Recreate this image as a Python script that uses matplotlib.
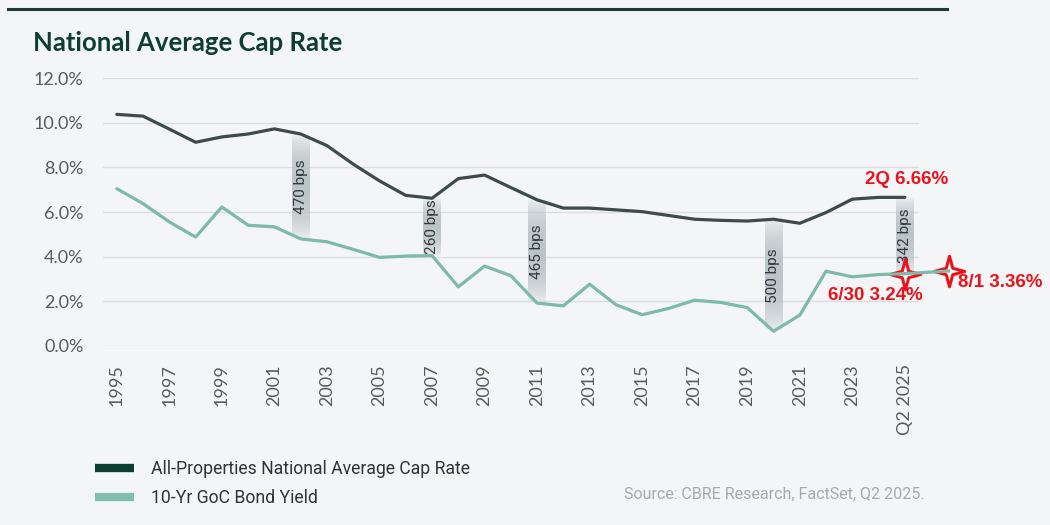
import numpy as np
import matplotlib
matplotlib.use('Agg')
import matplotlib.pyplot as plt
from matplotlib.lines import Line2D
from matplotlib.path import Path
from matplotlib.colors import to_rgb

years = [str(y) for y in range(1995, 2025)] + ['Q2 2025']
cap_rate = [10.38, 10.30, 9.72, 9.13, 9.37, 9.50, 9.73, 9.50, 8.98, 8.15,
            7.40, 6.75, 6.62, 7.50, 7.66, 7.10, 6.55, 6.18, 6.18, 6.10,
            6.02, 5.85, 5.68, 5.63, 5.60, 5.68, 5.50, 5.98, 6.58, 6.66, 6.66]
bond_yield = [7.05, 6.38, 5.56, 4.88, 6.23, 5.41, 5.34, 4.80, 4.67, 4.33,
              3.97, 4.03, 4.05, 2.65, 3.58, 3.15, 1.92, 1.80, 2.77, 1.85,
              1.40, 1.68, 2.05, 1.95, 1.72, 0.66, 1.38, 3.35, 3.10, 3.20, 3.24]
spread_years = ['2002', '2007', '2011', '2020', 'Q2 2025']
spread_labels = ['470 bps', '260 bps', '465 bps', '500 bps', '342 bps']
latest_cap_label = '2Q 6.66%'
jun30_label = '6/30 3.24%'
aug1_yield = 3.36
aug1_label = '8/1 3.36%'

BG = '#f4f5f7'
CAP_C = '#3d4b4b'
BOND_C = '#7dbaa7'
RED = '#e8141c'
NARROW = ['Roboto', 'DejaVu Sans']

fig = plt.figure(figsize=(10.5, 5.25), dpi=100, facecolor=BG)
ax = fig.add_axes([0.098, 0.341, 0.777, 0.510])
ax.set_facecolor(BG)

x = np.arange(len(years))

# spread bands (faded grey bars with rotated labels)
grad = np.linspace(0, 1, 200)
rgba = np.zeros((200, 1, 4))
rgba[..., :3] = to_rgb('#b8c2c6')
rgba[:, 0, 3] = np.sin(np.pi * grad) ** 0.6 * 0.95
for yr, lab in zip(spread_years, spread_labels):
    i = years.index(yr)
    lo, hi = bond_yield[i], cap_rate[i]
    ax.imshow(rgba, extent=[i - 0.33, i + 0.33, lo, hi], origin='lower',
              aspect='auto', interpolation='bilinear', zorder=1)
    ax.text(i, (lo + hi) / 2, lab, rotation=90, ha='center', va='center',
            fontsize=11, color='#33383a', family=NARROW, zorder=2)

ax.plot(x, cap_rate, color=CAP_C, lw=2.3, solid_joinstyle='round',
        solid_capstyle='round', zorder=3)
ax.plot(x, bond_yield, color=BOND_C, lw=2.3, solid_joinstyle='round',
        solid_capstyle='round', zorder=3)

# 4-point star marker
ang = np.arange(8) * np.pi / 4 + np.pi / 2
rad = np.where(np.arange(8) % 2 == 0, 1.0, 0.3)
verts = np.column_stack([rad * np.cos(ang), rad * np.sin(ang)])
star = Path(np.vstack([verts, verts[:1]]), closed=True)

last = len(years) - 1
aug_x = last + 1.67
ax.plot([last, aug_x], [bond_yield[last], aug1_yield], color=BOND_C, lw=2.3,
        clip_on=False, zorder=3)
ax.plot([last, aug_x], [bond_yield[last], aug1_yield], ls='none', marker=star,
        markersize=22, markerfacecolor='white', markeredgecolor=RED,
        markeredgewidth=2.2, clip_on=False, zorder=2.5)

ax.annotate(latest_cap_label, (last, cap_rate[last]), xytext=(1, 7),
            textcoords='offset points', ha='center', va='bottom',
            fontsize=13.5, fontweight='bold', color=RED, family='Liberation Sans',
            annotation_clip=False)
ax.annotate(jun30_label, (last, bond_yield[last]), xytext=(-21, -16),
            textcoords='offset points', ha='center', va='center',
            fontsize=13.5, fontweight='bold', color=RED, family='Liberation Sans',
            annotation_clip=False)
ax.annotate(aug1_label, (aug_x, aug1_yield), xytext=(6.5, -8),
            textcoords='offset points', ha='left', va='center',
            fontsize=13.5, fontweight='bold', color=RED, family='Liberation Sans',
            annotation_clip=False)

ax.set_xlim(-0.53, 30.53)
ax.set_ylim(0, 12)
ax.set_yticks(np.arange(0, 12.1, 2))
ax.set_yticklabels([f'{v:.1f}%' for v in np.arange(0, 12.1, 2)])
tick_pos = list(range(0, 29, 2)) + [last]
ax.set_xticks(tick_pos)
ax.set_xticklabels([years[i] for i in tick_pos], rotation=90)
ax.grid(axis='y', color='#dcdee1', lw=1)
ax.set_axisbelow(True)
for s in ax.spines.values():
    s.set_visible(False)
ax.tick_params(length=0, labelsize=13, labelcolor='#5a5a5a')
ax.tick_params(axis='y', pad=14)
ax.tick_params(axis='x', pad=13)
for t in ax.get_xticklabels() + ax.get_yticklabels():
    t.set_family('Lato')

# header
fig.add_artist(Line2D([8 / 1050, 947 / 1050], [1 - 8.5 / 525] * 2,
                      transform=fig.transFigure, color='#1f3a38', lw=2.2))
fig.text(33 / 1050, 1 - 43 / 525, 'National Average Cap Rate', va='center',
         ha='left', fontsize=18.5, fontweight='bold', family='Lato', color='#0e3d31')

handles = [Line2D([], [], color='#0c3f30', lw=6, solid_capstyle='butt'),
           Line2D([], [], color='#80bead', lw=6, solid_capstyle='butt')]
fig.legend(handles, ['All-Properties National Average Cap Rate', '10-Yr GoC Bond Yield'],
           loc='upper left', bbox_to_anchor=(95 / 1050, 1 - 460 / 525),
           frameon=False, handlelength=2.2, handletextpad=1.0, labelspacing=0.65,
           borderpad=0, borderaxespad=0,
           prop={'family': NARROW, 'size': 12.7}, labelcolor='#333333')
fig.text(624 / 1050, 1 - 494 / 525, 'Source: CBRE Research, FactSet, Q2 2025.',
         va='center', ha='left', fontsize=11.5, family=NARROW, color='#a6aaae')

fig.savefig('out.png', dpi=100, facecolor=BG)
